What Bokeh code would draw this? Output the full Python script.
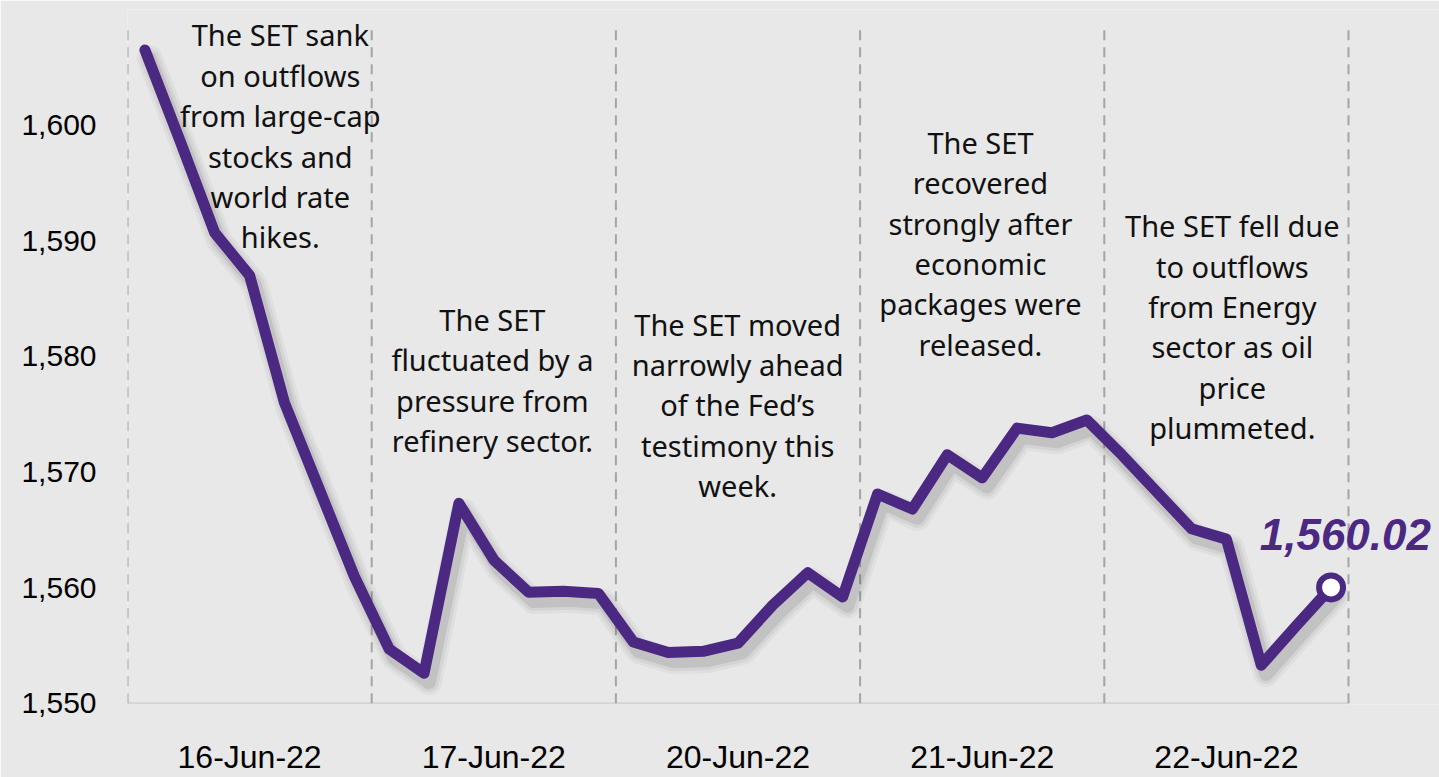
from bokeh.plotting import figure
from bokeh.models import FixedTicker, NumeralTickFormatter, Label, ColumnDataSource
from bokeh.core.properties import value
from bokeh.embed import file_html
from bokeh.resources import INLINE

# ---- data ----
days = ["16-Jun-22", "17-Jun-22", "20-Jun-22", "21-Jun-22", "22-Jun-22"]
set_16 = [1606.5, 1598.7, 1590.7, 1587.0, 1576.0, 1568.5, 1561.0]
set_17 = [1554.7, 1552.6, 1567.3, 1562.4, 1559.6, 1559.7, 1559.5]
set_20 = [1555.3, 1554.4, 1554.5, 1555.2, 1558.5, 1561.3, 1559.2]
set_21 = [1568.1, 1566.8, 1571.5, 1569.5, 1573.8, 1573.4, 1574.5]
set_22 = [1571.5, 1568.3, 1565.1, 1564.2, 1553.3, 1556.7, 1560.02]
y_ticks = [1550, 1560, 1570, 1580, 1590, 1600]
notes = [
    ["The SET sank", "on outflows", "from large-cap", "stocks and", "world rate", "hikes."],
    ["The SET", "fluctuated by a", "pressure from", "refinery sector."],
    ["The SET moved", "narrowly ahead", "of the Fed\u2019s", "testimony this", "week."],
    ["The SET", "recovered", "strongly after", "economic", "packages were", "released."],
    ["The SET fell due", "to outflows", "from Energy", "sector as oil", "price", "plummeted."],
]
last_label = "1,560.02"

series = set_16 + set_17 + set_20 + set_21 + set_22
per_day = len(set_16)
n = len(series)
xs = [i + 0.5 for i in range(n)]
y_lo = 1549.9

PURPLE = "#4b2882"
BG = "#e8e8e8"

# frame spans from x=127 px to the right edge, so the last label is not clipped
px_per_pt = 1221 / n
x_hi = n + (1439 - 127 - 1221) / px_per_pt

p = figure(width=1439, height=777, output_backend="svg", toolbar_location=None,
           x_range=(0, x_hi), y_range=(y_lo, 1610),
           min_border_left=127, min_border_right=0, min_border_top=9, min_border_bottom=72)
p.background_fill_color = BG
p.border_fill_color = BG
p.outline_line_color = None
p.grid.visible = False

# axes
p.yaxis.ticker = FixedTicker(ticks=y_ticks)
p.yaxis.formatter = NumeralTickFormatter(format="0,0")
p.yaxis.axis_line_color = None
p.yaxis.major_tick_line_color = None
p.yaxis.minor_tick_line_color = None
p.yaxis.major_label_text_font = "Liberation Sans"
p.yaxis.major_label_text_font_size = "30px"
p.yaxis.major_label_text_color = "#000000"
p.yaxis.major_label_standoff = 25

centers = [d * per_day + per_day / 2 for d in range(len(days))]
p.xaxis.ticker = FixedTicker(ticks=centers)
p.xaxis.major_label_overrides = {c: d for c, d in zip(centers, days)}
p.xaxis.axis_line_color = None
p.xaxis.major_tick_line_color = None
p.xaxis.minor_tick_line_color = None
p.xaxis.major_label_text_font = "Liberation Sans"
p.xaxis.major_label_text_font_size = "32px"
p.xaxis.major_label_text_color = "#000000"
p.xaxis.major_label_standoff = 28

# baseline (category axis line) only across the plotted days
p.line([0, n], [1550, 1550], line_color="#d4d4d4", line_width=2)

# dashed day separators
for d in range(len(days) + 1):
    p.line([d * per_day, d * per_day], [1550, 1608.2], line_color="#a4a4a4",
           line_width=2, line_dash="10 7")

# shadow of the line
dx, dy = 0.14, -0.75
for w, a in [(26, 0.05), (20, 0.07), (14, 0.12)]:
    p.line([x + dx for x in xs], [y + dy for y in series], line_color="#404040",
           line_alpha=a, line_width=w, line_join="round", line_cap="round")

# main line
p.line(xs, series, line_color=PURPLE, line_width=11, line_join="round", line_cap="round")

# last point marker
p.scatter([xs[-1]], [series[-1]], size=24, fill_color="white", line_color=PURPLE, line_width=6)

# last value label
p.add_layout(Label(x=34.91, y=1564.6, text=last_label, text_font="Liberation Sans",
                   text_font_style="bold italic", text_font_size="44px", text_color=PURPLE,
                   text_align="center", text_baseline="middle"))

# annotations
note_x = [4.38, 10.46, 17.49, 24.45, 31.67]
note_top = [1607.8, 1583.2, 1582.8, 1598.5, 1591.3]
line_step = 3.49
tx, ty, tt = [], [], []
for lines, cx, top in zip(notes, note_x, note_top):
    for k, t in enumerate(lines):
        tx.append(cx)
        ty.append(top - k * line_step)
        tt.append(t)
src = ColumnDataSource(dict(x=tx, y=ty, text=tt))
p.text(x="x", y="y", text="text", source=src, text_font=value("Noto Sans"),
       text_font_size="29px", text_color="#111111", text_align="center",
       text_baseline="middle")

open("out.html", "w").write(file_html(p, INLINE))
